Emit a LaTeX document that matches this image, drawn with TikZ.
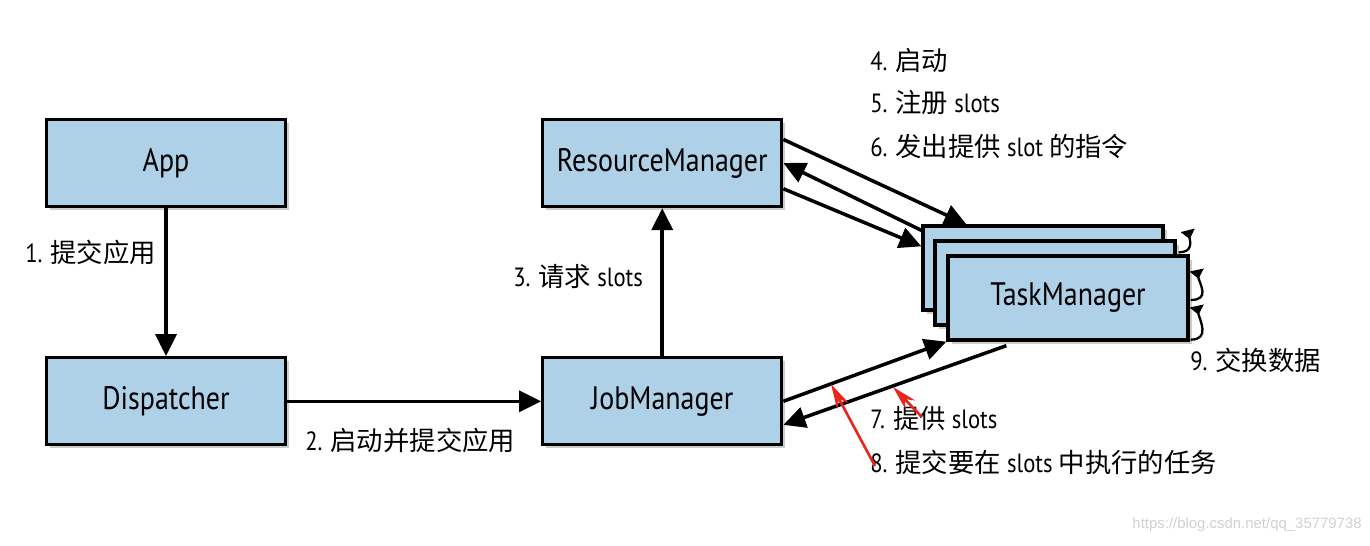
\documentclass[tikz,border=0pt]{standalone}
\usepackage{fontspec}
\setmainfont[FakeStretch=0.86]{PT Sans}
\newfontfamily\cjk{Noto Sans CJK SC}
\newfontfamily\urlfont{Liberation Sans}
\usetikzlibrary{positioning, arrows.meta, shadows, calc}
\definecolor{BoxBlue}{HTML}{AFD1E8}
\definecolor{NoteRed}{HTML}{E8261E}
\newcommand{\zh}[1]{{\cjk #1}}

\begin{document}
\begin{tikzpicture}[x=0.02cm, y=-0.02cm,
        node distance = 2.96cm and 5.08cm, % Vertical and horizontal spacing
        box/.style    = {rectangle, draw, line width=1.9pt, fill=BoxBlue, minimum width=4.78cm, minimum height=1.74cm,
                         font=\fontsize{18.5}{22}\selectfont, drop shadow={shadow xshift=2pt, shadow yshift=-2pt, opacity=0.4}},
        % TaskManager copies, stacked
        tmbox/.style  = {box, minimum width=4.8cm, minimum height=1.68cm},
        txt/.style    = {anchor=west, inner sep=0pt, font=\fontsize{15}{18}\selectfont},
        arrow/.style  = {draw, line width=2pt, -{Triangle[length=4.4mm, width=4.2mm]}}, % Style for the arrows
        xchg/.style   = {draw, line width=1.3pt, -{Triangle[reversed, length=1.8mm, width=2.8mm]}},
        redarrow/.style = {draw=NoteRed, line width=1.5pt, -{Stealth[length=5mm, width=2.6mm]}}
    ]
    \useasboundingbox (0,0) rectangle (1370,545);

    \node[box] (app) at (166,163) {App};
    \node[box, below=of app] (dispatcher) {Dispatcher};
    \node[box, right=of dispatcher] (jm) {JobManager};
    \node[box, above=of jm] (rm) {ResourceManager};

    % --- TaskManager stack ---
    \node[tmbox] (tm3) at (1043,268) {};
    \node[tmbox] (tm2) at (1055,283) {};
    \node[tmbox] (tm1) at (1068,298) {TaskManager};

    % Labels
    \node[txt] (l1) at (25,252) {1. \zh{提交应用}};
    \node[txt] (l2) at (305,440) {2. \zh{启动并提交应用}};
    \node[txt] (l3) at (513,277) {3. \zh{请求} slots};
    \node[txt] (l4) at (870,60) {4. \zh{启动}};
    \node[txt] (l5) at (870,103) {5. \zh{注册} slots};
    \node[txt] (l6) at (870,146) {6. \zh{发出提供} slot \zh{的指令}};
    \node[txt] (l7) at (870,418) {7. \zh{提供} slots};
    \node[txt] (l8) at (870,462) {8. \zh{提交要在} slots \zh{中执行的任务}};
    \node[txt] (l9) at (1190,360) {9. \zh{交换数据}};
    \node[anchor=east, inner sep=0pt, text=black!18, font=\urlfont\fontsize{8.5}{10}\selectfont] (wm) at (1362,525) {https://blog.csdn.net/qq\_35779738};

    % Arrows
    \draw[arrow] (app) -- (dispatcher);
    \draw[arrow] (dispatcher) -- (jm);
    \draw[arrow] (jm) -- (rm);

    \draw[arrow] (rm.11) -- ($(tm3.north west)+(45,0)$);
    \draw[arrow] ($(tm3.north west)+(0,6)$) -- (rm.east);
    \draw[arrow] (rm.-12) -- ($(tm3.north west)+(0,22)$);

    \draw[arrow] (jm.east) -- (tm1.south west);
    \draw[arrow] ($(tm1.south west)+(60,4)$) -- (jm.-11);

    % data exchange loops
    \draw[xchg] ($(tm1.south east)+(1,-2)$) .. controls +(20,0) and +(3,14) .. ($(tm1.east)+(7,8)$);
    \draw[xchg] ($(tm1.east)+(1,2)$) .. controls +(20,0) and +(3,14) .. ($(tm1.east)+(7,-28)$);
    \draw[xchg] ($(tm2.north east)+(2,13)$) .. controls +(14,0) and +(3,12) .. ($(tm3.north east)+(23,6)$);

    % red notes
    \coordinate (n8) at (875,466);
    \coordinate (n8tip) at (831,384);
    \coordinate (n7) at (922,417);
    \coordinate (n7tip) at (893,387);
    \draw[redarrow] (n8) -- (n8tip);
    \draw[redarrow] (n7) -- (n7tip);

\end{tikzpicture}
\end{document}
